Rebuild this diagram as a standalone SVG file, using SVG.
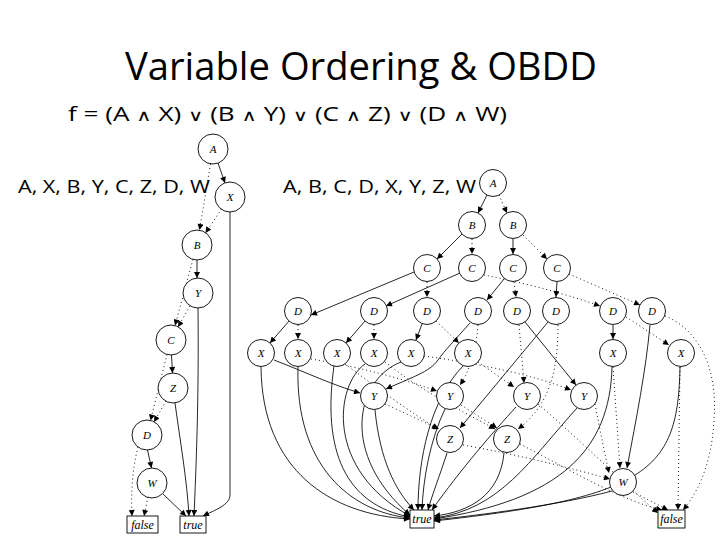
<svg xmlns="http://www.w3.org/2000/svg" width="720" height="540" viewBox="0 0 720 540">
<style>
.t{font-family:"Open Sans","Noto Sans","Liberation Sans",sans-serif;fill:#000}
.sym{font-family:"DejaVu Sans","Liberation Sans",sans-serif;font-size:16px}
.n circle{fill:#fff;stroke:#000;stroke-width:0.9}
.n rect{fill:#fff;stroke:#000;stroke-width:0.9}
.n text{font-family:"Liberation Serif","DejaVu Serif",serif;font-style:italic;font-size:11px;text-anchor:middle;fill:#000}
.b text{font-size:12px}
.s{fill:none;stroke:#000;stroke-width:0.85;marker-end:url(#ah)}
.d{fill:none;stroke:#000;stroke-width:0.9;stroke-dasharray:1 3;marker-end:url(#ah)}
</style>
<defs>
<marker id="ah" viewBox="0 0 10 10" refX="10" refY="5" markerWidth="7" markerHeight="6" markerUnits="userSpaceOnUse" orient="auto">
<path d="M0,0 L10,5 L0,10 z" fill="#000"/>
</marker>
</defs>
<rect width="720" height="540" fill="#fff"/>
<text class="t" x="125" y="80" font-size="38" textLength="472" lengthAdjust="spacingAndGlyphs">Variable Ordering &amp; OBDD</text>
<text class="t" x="68" y="121" font-size="20" textLength="439" lengthAdjust="spacingAndGlyphs">f = (A <tspan class="sym">∧</tspan> X) <tspan class="sym">∨</tspan> (B <tspan class="sym">∧</tspan> Y) <tspan class="sym">∨</tspan> (C <tspan class="sym">∧</tspan> Z) <tspan class="sym">∨</tspan> (D <tspan class="sym">∧</tspan> W)</text>
<text class="t" x="18" y="193" font-size="19" textLength="192" lengthAdjust="spacingAndGlyphs">A, X, B, Y, C, Z, D, W</text>
<text class="t" x="283" y="193" font-size="19" textLength="193" lengthAdjust="spacingAndGlyphs">A, B, C, D, X, Y, Z, W</text>
<g id="connectors">
<!-- left OBDD -->
<path class="s" d="M218,163 L225,183"/>
<path class="d" d="M210.5,164 L199.5,230"/>
<path class="d" d="M221.5,209 L205.5,233"/>
<path class="s" d="M230,212 L230,495 C230,505 215,510 203,516"/>
<path class="s" d="M197,260 L197,278"/>
<path class="d" d="M193,259.5 L175,325.5"/>
<path class="d" d="M190,306 L178,327"/>
<path class="s" d="M198,308 C199,400 196,470 194,516"/>
<path class="s" d="M171.5,355 L172.5,373"/>
<path class="d" d="M167,354.5 L150.5,420.5"/>
<path class="d" d="M166,401 L154,422"/>
<path class="s" d="M175,403 C180,440 187,480 189,516"/>
<path class="s" d="M147.5,450 L151.5,468"/>
<path class="d" d="M138,447 C132,470 131,495 132,516"/>
<path class="d" d="M148,497 L144,516"/>
<path class="s" d="M163,494 L186,516"/>
<!-- right OBDD: A,B,C -->
<path class="s" d="M487,195 L478,213"/>
<path class="d" d="M499,195 L507,213"/>
<path class="s" d="M462,234 L437,259"/>
<path class="d" d="M472,239 L472,254"/>
<path class="s" d="M513,239 L513,254"/>
<path class="d" d="M523,235 L547,259"/>
<!-- C to D -->
<path class="s" d="M414,272 L311,315"/>
<path class="d" d="M427,282 L427,297"/>
<path class="s" d="M460,273 L386,306"/>
<path class="d" d="M484,275 C520,282 560,292 600,306"/>
<path class="s" d="M504,279 L487,300"/>
<path class="d" d="M514,282 L516,297"/>
<path class="s" d="M557,282 L556,297"/>
<path class="d" d="M569,274 L640,305"/>
<!-- D to next -->
<path class="s" d="M289,321 L270,343"/>
<path class="d" d="M298,325 L298,339"/>
<path class="s" d="M365,321 L346,343"/>
<path class="d" d="M374,325 L374,339"/>
<path class="s" d="M422,324 L416,340"/>
<path class="d" d="M436,321 L459,343"/>
<path class="s" d="M470,323 C455,340 445,350 438,360 C430,372 410,378 386,389"/>
<path class="d" d="M478,325 C476,350 470,370 460,385"/>
<path class="s" d="M525,322 L576,385"/>
<path class="d" d="M519,325 L524,383"/>
<path class="s" d="M548,322 L460,428"/>
<path class="d" d="M558,325 C558,370 550,405 518,429"/>
<path class="s" d="M613,325 L613,339"/>
<path class="d" d="M626,317 L669,345"/>
<path class="s" d="M650,325 C646,370 636,420 627,468"/>
<path class="d" d="M665,316 C700,330 718,370 714,420 C712,460 700,490 683,510"/>
<!-- X lo edges -->
<path class="s" d="M274,360 C310,374 330,384 360,393"/>
<path class="d" d="M311,359 C360,367 400,378 437,391"/>
<path class="d" d="M345,364 C380,390 410,412 438,429"/>
<path class="d" d="M385,362 C420,390 460,410 495,429"/>
<path class="d" d="M424,356 C480,364 530,374 571,390"/>
<path class="d" d="M478,362 L514,387"/>
<path class="d" d="M613,367 L620,468"/>
<path class="d" d="M680,367 L678,510"/>
<!-- Y, Z, W lo edges -->
<path class="d" d="M385,404 L439,429"/>
<path class="d" d="M461,405 L497,428"/>
<path class="d" d="M538,404 C580,440 620,480 658,513"/>
<path class="d" d="M595,404 C600,430 604,450 609,473"/>
<path class="d" d="M463,445 C520,455 570,468 610,479"/>
<path class="d" d="M520,444 C570,470 620,500 662,510"/>
<path class="d" d="M633,492 L668,510"/>
<!-- hi edges to true -->
<path class="s" d="M261,367 C262,470 330,515 410,519"/>
<path class="s" d="M298,367 C295,465 350,512 410,518"/>
<path class="s" d="M334,366 C322,450 345,505 410,517"/>
<path class="s" d="M365,364 C335,385 325,470 410,516"/>
<path class="s" d="M401,362 C355,380 340,455 410,515"/>
<path class="s" d="M375,410 C380,460 395,490 414,510"/>
<path class="s" d="M463,366 C430,400 418,460 418,510"/>
<path class="s" d="M445,409 C430,440 423,480 422,510"/>
<path class="s" d="M447,453 C440,475 432,495 428,510"/>
<path class="s" d="M516,407 C495,430 460,470 432,510"/>
<path class="s" d="M504,453 C500,495 470,512 434,516"/>
<path class="s" d="M577,408 C530,460 500,510 434,518"/>
<path class="s" d="M612,367 C610,450 560,500 434,519"/>
<path class="s" d="M612,491 C560,505 480,515 434,520"/>
<path class="s" d="M680,367 C678,470 650,497 434,521"/>
</g>
<!-- left OBDD nodes -->
<g id="L_A" class="n"><circle cx="213" cy="149" r="15"/><text x="213" y="153">A</text></g>
<g id="L_X" class="n"><circle cx="230" cy="197" r="15"/><text x="230" y="201">X</text></g>
<g id="L_B" class="n"><circle cx="197" cy="245" r="15"/><text x="197" y="249">B</text></g>
<g id="L_Y" class="n"><circle cx="198" cy="293" r="15"/><text x="198" y="297">Y</text></g>
<g id="L_C" class="n"><circle cx="171" cy="340" r="15"/><text x="171" y="344">C</text></g>
<g id="L_Z" class="n"><circle cx="173" cy="388" r="15"/><text x="173" y="392">Z</text></g>
<g id="L_D" class="n"><circle cx="147" cy="435" r="15"/><text x="147" y="439">D</text></g>
<g id="L_W" class="n"><circle cx="152" cy="483" r="15"/><text x="152" y="487">W</text></g>
<g id="L_false" class="n b"><rect x="127" y="516" width="31" height="17"/><text x="142.5" y="529">false</text></g>
<g id="L_true" class="n b"><rect x="180" y="516" width="26" height="17"/><text x="193" y="529">true</text></g>
<!-- right OBDD nodes -->
<g id="R_A" class="n"><circle cx="493" cy="183" r="13.5"/><text x="493" y="187">A</text></g>
<g id="R_B1" class="n"><circle cx="472" cy="225" r="13.5"/><text x="472" y="229">B</text></g>
<g id="R_B2" class="n"><circle cx="513" cy="225" r="13.5"/><text x="513" y="229">B</text></g>
<g id="R_C1" class="n"><circle cx="427" cy="268" r="13.5"/><text x="427" y="272">C</text></g>
<g id="R_C2" class="n"><circle cx="472" cy="268" r="13.5"/><text x="472" y="272">C</text></g>
<g id="R_C3" class="n"><circle cx="513" cy="268" r="13.5"/><text x="513" y="272">C</text></g>
<g id="R_C4" class="n"><circle cx="557" cy="268" r="13.5"/><text x="557" y="272">C</text></g>
<g id="R_D1" class="n"><circle cx="298" cy="311" r="13.5"/><text x="298" y="315">D</text></g>
<g id="R_D2" class="n"><circle cx="374" cy="311" r="13.5"/><text x="374" y="315">D</text></g>
<g id="R_D3" class="n"><circle cx="427" cy="311" r="13.5"/><text x="427" y="315">D</text></g>
<g id="R_D4" class="n"><circle cx="478" cy="311" r="13.5"/><text x="478" y="315">D</text></g>
<g id="R_D5" class="n"><circle cx="517" cy="311" r="13.5"/><text x="517" y="315">D</text></g>
<g id="R_D6" class="n"><circle cx="556" cy="311" r="13.5"/><text x="556" y="315">D</text></g>
<g id="R_D7" class="n"><circle cx="613" cy="311" r="13.5"/><text x="613" y="315">D</text></g>
<g id="R_D8" class="n"><circle cx="652" cy="311" r="13.5"/><text x="652" y="315">D</text></g>
<g id="R_X1" class="n"><circle cx="261" cy="353" r="13.5"/><text x="261" y="357">X</text></g>
<g id="R_X2" class="n"><circle cx="298" cy="353" r="13.5"/><text x="298" y="357">X</text></g>
<g id="R_X3" class="n"><circle cx="337" cy="353" r="13.5"/><text x="337" y="357">X</text></g>
<g id="R_X4" class="n"><circle cx="374" cy="353" r="13.5"/><text x="374" y="357">X</text></g>
<g id="R_X5" class="n"><circle cx="411" cy="353" r="13.5"/><text x="411" y="357">X</text></g>
<g id="R_X6" class="n"><circle cx="468" cy="353" r="13.5"/><text x="468" y="357">X</text></g>
<g id="R_X7" class="n"><circle cx="613" cy="353" r="13.5"/><text x="613" y="357">X</text></g>
<g id="R_X8" class="n"><circle cx="681" cy="353" r="13.5"/><text x="681" y="357">X</text></g>
<g id="R_Y1" class="n"><circle cx="374" cy="396" r="13.5"/><text x="374" y="400">Y</text></g>
<g id="R_Y2" class="n"><circle cx="450" cy="396" r="13.5"/><text x="450" y="400">Y</text></g>
<g id="R_Y3" class="n"><circle cx="527" cy="396" r="13.5"/><text x="527" y="400">Y</text></g>
<g id="R_Y4" class="n"><circle cx="584" cy="396" r="13.5"/><text x="584" y="400">Y</text></g>
<g id="R_Z1" class="n"><circle cx="450" cy="439" r="13.5"/><text x="450" y="443">Z</text></g>
<g id="R_Z2" class="n"><circle cx="507" cy="439" r="13.5"/><text x="507" y="443">Z</text></g>
<g id="R_W" class="n"><circle cx="623" cy="482" r="13.5"/><text x="623" y="486">W</text></g>
<g id="R_true" class="n b"><rect x="410" y="510" width="24" height="18"/><text x="422" y="523">true</text></g>
<g id="R_false" class="n b"><rect x="658" y="510" width="27" height="18"/><text x="671.5" y="523">false</text></g>
</svg>
